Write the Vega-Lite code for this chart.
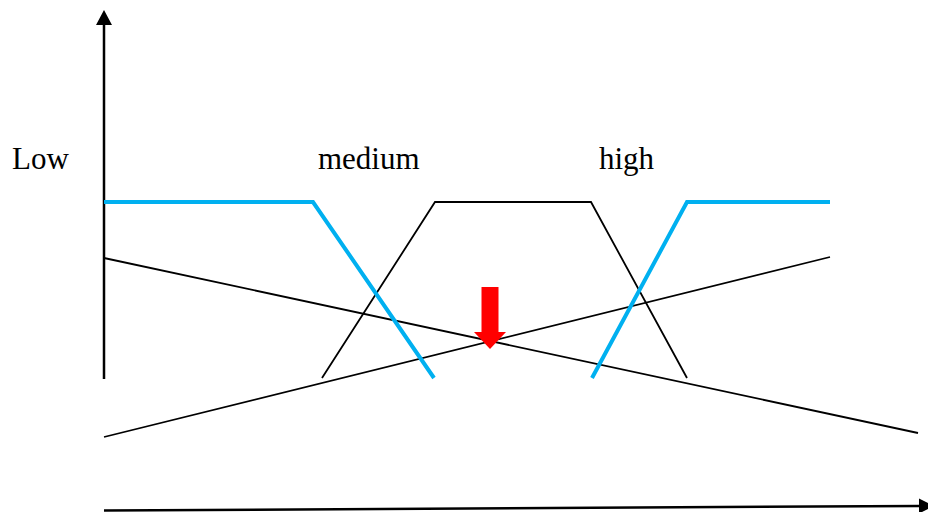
{
  "$schema": "https://vega.github.io/schema/vega-lite/v6.json",
  "width": 928,
  "height": 512,
  "padding": 0,
  "autosize": {"type": "none"},
  "background": "white",
  "config": {"view": {"stroke": null}},
  "datasets": {
    "axes": [
      {"s": "y", "o": 0, "x": 104, "y": 379},
      {"s": "y", "o": 1, "x": 104, "y": 24},
      {"s": "x", "o": 0, "x": 104, "y": 510.5},
      {"s": "x", "o": 1, "x": 920, "y": 506}
    ],
    "blue": [
      {"s": "low", "o": 0, "x": 104, "y": 202},
      {"s": "low", "o": 1, "x": 313, "y": 202},
      {"s": "low", "o": 2, "x": 434, "y": 378},
      {"s": "high", "o": 0, "x": 592, "y": 378},
      {"s": "high", "o": 1, "x": 687, "y": 202},
      {"s": "high", "o": 2, "x": 830, "y": 202}
    ],
    "black": [
      {"s": "medium", "o": 0, "x": 322, "y": 378},
      {"s": "medium", "o": 1, "x": 435, "y": 202},
      {"s": "medium", "o": 2, "x": 591, "y": 202},
      {"s": "medium", "o": 3, "x": 687, "y": 378},
      {"s": "down", "o": 0, "x": 104, "y": 258},
      {"s": "down", "o": 1, "x": 918, "y": 433},
      {"s": "up", "o": 0, "x": 104, "y": 437},
      {"s": "up", "o": 1, "x": 830, "y": 257}
    ],
    "labels": [
      {"t": "Low", "x": 12, "y": 169},
      {"t": "medium", "x": 318, "y": 169},
      {"t": "high", "x": 599, "y": 169}
    ],
    "shaft": [{"x": 490, "y": 287, "y2": 333}],
    "redhead": [{"x": 490, "y": 332}],
    "yhead": [{"x": 104, "y": 25}],
    "xhead": [{"x": 919, "y": 506}]
  },
  "layer": [
    {
      "data": {"name": "axes"},
      "mark": {"type": "line", "color": "black", "strokeWidth": 2.5},
      "encoding": {
        "x": {"field": "x", "type": "quantitative", "scale": {"domain": [0, 928], "nice": false, "zero": false}, "axis": null},
        "y": {"field": "y", "type": "quantitative", "scale": {"domain": [0, 512], "nice": false, "zero": false, "reverse": true}, "axis": null},
        "detail": {"field": "s"},
        "order": {"field": "o"}
      }
    },
    {
      "data": {"name": "black"},
      "mark": {"type": "line", "color": "black", "strokeWidth": 1.8},
      "encoding": {
        "x": {"field": "x", "type": "quantitative"},
        "y": {"field": "y", "type": "quantitative"},
        "detail": {"field": "s"},
        "order": {"field": "o"}
      }
    },
    {
      "data": {"name": "blue"},
      "mark": {"type": "line", "color": "#00B0F0", "strokeWidth": 4},
      "encoding": {
        "x": {"field": "x", "type": "quantitative"},
        "y": {"field": "y", "type": "quantitative"},
        "detail": {"field": "s"},
        "order": {"field": "o"}
      }
    },
    {
      "data": {"name": "shaft"},
      "mark": {"type": "rule", "color": "#FF0000", "strokeWidth": 17},
      "encoding": {
        "x": {"field": "x", "type": "quantitative"},
        "y": {"field": "y", "type": "quantitative"},
        "y2": {"field": "y2"}
      }
    },
    {
      "data": {"name": "redhead"},
      "mark": {"type": "point", "shape": "M-1,0L1,0L0,1.0625Z", "filled": true, "color": "#FF0000", "opacity": 1, "size": 1024, "strokeWidth": 0},
      "encoding": {
        "x": {"field": "x", "type": "quantitative"},
        "y": {"field": "y", "type": "quantitative"}
      }
    },
    {
      "data": {"name": "yhead"},
      "mark": {"type": "point", "shape": "M-1,0L1,0L0,-1.875Z", "filled": true, "color": "black", "opacity": 1, "size": 256, "strokeWidth": 0},
      "encoding": {
        "x": {"field": "x", "type": "quantitative"},
        "y": {"field": "y", "type": "quantitative"}
      }
    },
    {
      "data": {"name": "xhead"},
      "mark": {"type": "point", "shape": "M0,-1L0,1L2,0Z", "filled": true, "color": "black", "opacity": 1, "size": 225, "strokeWidth": 0},
      "encoding": {
        "x": {"field": "x", "type": "quantitative"},
        "y": {"field": "y", "type": "quantitative"}
      }
    },
    {
      "data": {"name": "labels"},
      "mark": {"type": "text", "align": "left", "baseline": "alphabetic", "font": "Liberation Serif", "fontSize": 31, "color": "black"},
      "encoding": {
        "x": {"field": "x", "type": "quantitative"},
        "y": {"field": "y", "type": "quantitative"},
        "text": {"field": "t"}
      }
    }
  ]
}
